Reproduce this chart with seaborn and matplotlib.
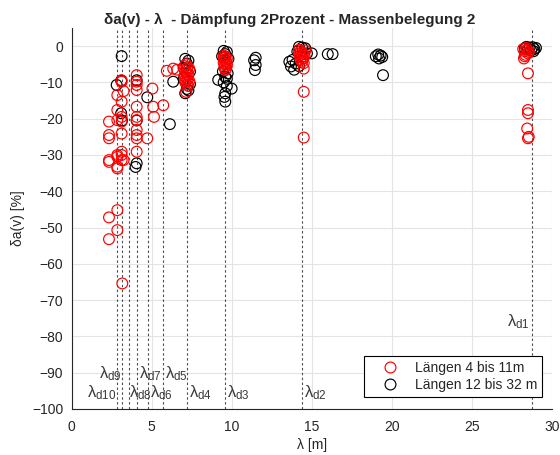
import matplotlib
matplotlib.use("Agg")
import matplotlib.pyplot as plt
from matplotlib.lines import Line2D
import pandas as pd
import seaborn as sns

# Wavelength lambda [m] and amplitude deviation delta_a(v) [%]
red_lam = [
    2.34, 2.34, 2.34, 2.34, 2.34, 2.34, 2.34,
    2.86, 2.86, 2.86, 2.86, 2.86, 2.86, 2.86, 2.86, 2.86,
    3.13, 3.13, 3.13, 3.13, 3.13, 3.13, 3.13, 3.13, 3.13,
    3.25, 3.25, 3.17,
    4.07, 4.07, 4.07, 4.07, 4.07, 4.07, 4.07, 4.07, 4.07, 4.07, 4.07,
    4.73, 5.05, 5.10, 5.15, 5.73, 5.95, 6.35, 6.60,
    7.05, 7.15, 7.25, 7.35, 7.10, 7.20, 7.30, 7.05, 7.15, 7.25, 7.35,
    7.10, 7.20, 7.30, 7.15, 7.20, 7.25, 7.10,
    9.50, 9.60, 9.70, 9.55, 9.65, 9.50, 9.60, 9.70, 9.55, 9.65, 9.60,
    9.50, 9.70,
    14.20, 14.30, 14.40, 14.50, 14.60, 14.25, 14.35, 14.45, 14.55, 14.30,
    14.40, 14.50, 14.20, 14.50, 14.50, 14.50,
    28.20, 28.30, 28.40, 28.50, 28.35, 28.45, 28.55, 28.25, 28.30, 28.50,
    28.50, 28.50, 28.45, 28.50, 28.55,
]
red_delta = [
    -20.8, -24.5, -25.4, -31.4, -31.9, -47.2, -53.2,
    -13.5, -17.6, -20.4, -30.0, -30.5, -33.2, -33.7, -45.2, -50.7,
    -9.4, -9.8, -15.3, -19.5, -20.8, -24.1, -29.1, -30.0, -31.4,
    -12.4, -31.4, -65.4,
    -8.0, -9.8, -10.7, -12.1, -16.7, -19.5, -20.4, -23.1, -24.5, -25.4, -29.1,
    -25.4, -11.7, -16.7, -19.5, -16.3, -6.8, -6.2, -6.5,
    -5.5, -5.0, -5.8, -6.2, -6.8, -7.3, -7.8, -8.2, -8.8, -9.2, -9.6,
    -10.0, -10.6, -11.0, -12.6, -6.2, -8.0, -9.4,
    -2.6, -3.0, -3.4, -3.8, -4.2, -4.6, -5.0, -5.4, -5.8, -6.2, -6.6,
    -3.2, -4.8,
    -1.0, -1.4, -1.8, -2.2, -1.2, -2.6, -3.0, -3.4, -2.8, -3.8,
    -4.3, -4.7, -2.0, -6.2, -12.6, -25.2,
    -0.8, -1.4, -0.5, -2.0, -2.4, -1.0, -1.6, -3.4, -2.8, -7.5,
    -17.6, -18.5, -22.7, -25.4, -25.0,
]

black_lam = [
    3.13, 2.82, 3.10, 3.15, 3.10, 4.07, 4.07, 4.00, 4.07, 4.73, 6.14, 6.35,
    7.10, 7.30, 7.20, 7.00, 7.40, 7.00, 7.40, 7.20, 7.10, 7.30,
    9.50, 9.70, 9.60, 9.40, 9.80, 9.45, 9.75, 9.60, 9.16, 9.50, 9.70,
    10.00, 9.60, 9.55, 9.60, 9.70,
    11.40, 11.50, 11.45, 11.50,
    14.20, 14.40, 14.60, 14.10, 14.70, 13.60, 13.70, 13.90, 13.80, 14.00,
    14.20, 15.00, 16.00, 16.30,
    19.00, 19.15, 19.30, 19.20, 19.40, 19.45,
    28.40, 28.60, 28.80, 28.90, 29.00, 28.70, 28.30, 28.85, 28.50,
]
black_delta = [
    -2.75, -10.7, -9.5, -20.5, -18.5, -9.4, -32.3, -33.3, -20.5, -14.1, -21.5, -9.8,
    -3.5, -4.0, -4.8, -6.0, -7.0, -9.0, -10.5, -11.8, -13.0, -12.2,
    -1.3, -1.6, -2.2, -2.8, -3.5, -7.0, -7.5, -8.5, -9.3, -10.0, -11.0,
    -11.7, -13.0, -14.0, -15.3, -9.0,
    -3.9, -5.2, -6.6, -3.2,
    -0.2, -0.4, -0.6, -1.5, -2.0, -4.3, -5.6, -6.5, -3.8, -4.8,
    -5.5, -2.0, -2.2, -2.2,
    -2.8, -2.3, -2.6, -3.4, -3.0, -8.0,
    -0.2, -0.4, -0.3, -0.8, -0.5, -1.2, -0.6, -1.4, -0.9,
]

# Characteristic wavelengths lambda_d1 ... lambda_d10
lam_d = [28.75, 14.40, 9.58, 7.19, 5.73, 4.79, 4.07, 3.59, 3.17, 2.86]
lam_d_names = ["d1", "d2", "d3", "d4", "d5", "d6", "d7", "d8", "d9", "d10"]

series_names = ["Längen 4 bis 11m", "Längen 12 bis 32 m"]
x_ticks = [0, 5, 10, 15, 20, 25, 30]
y_ticks = [-100, -90, -80, -70, -60, -50, -40, -30, -20, -10, 0]

sns.set_style("white")
plt.rcParams["font.family"] = ["Liberation Sans", "DejaVu Sans"]
plt.rcParams["mathtext.fontset"] = "custom"
plt.rcParams["mathtext.rm"] = "Liberation Sans"
plt.rcParams["mathtext.it"] = "Liberation Sans"
plt.rcParams["mathtext.default"] = "regular"

fig = plt.figure(figsize=(5.6, 4.55), dpi=100)
ax = fig.add_axes([0.1277, 0.1011, 0.858, 0.8374])

df_red = pd.DataFrame({"lam": red_lam, "delta": red_delta})
df_black = pd.DataFrame({"lam": black_lam, "delta": black_delta})

mk = dict(marker="o", s=60, facecolor="none", linewidth=0.85, legend=False, zorder=3)
sns.scatterplot(data=df_black, x="lam", y="delta", ax=ax, edgecolor="black", **mk)
sns.scatterplot(data=df_red, x="lam", y="delta", ax=ax, edgecolor="red", **mk)

# dashed markers for the characteristic wavelengths
for v in lam_d:
    ax.axvline(v, color="#4d4d4d", lw=0.8, ls=(0, (2.2, 2.2)), zorder=2)

top_row, low_row = -91.6, -96.8
label_pos = {
    "d1": (-0.12, -77.3, "right"),
    "d2": (0.12, low_row, "left"),
    "d3": (0.12, low_row, "left"),
    "d4": (0.12, low_row, "left"),
    "d5": (0.12, top_row, "left"),
    "d6": (0.10, low_row, "left"),
    "d7": (0.12, top_row, "left"),
    "d8": (0.0, low_row, "left"),
    "d9": (-0.05, top_row, "right"),
    "d10": (-0.05, low_row, "right"),
}
for v, name in zip(lam_d, lam_d_names):
    dx, yy, ha = label_pos[name]
    ax.text(v + dx, yy, r"$\lambda_{" + name + "}$", ha=ha, va="baseline",
            fontsize=12, color="#3a3a3a", zorder=4)

ax.set_xlim(0, 30)
ax.set_ylim(-100, 5)
ax.set_xticks(x_ticks)
ax.set_yticks(y_ticks)
ax.grid(True, color="#e4e4e4", lw=0.8)
ax.set_axisbelow(True)
for side in ["top", "right"]:
    ax.spines[side].set_visible(False)
for side in ["left", "bottom"]:
    ax.spines[side].set_color("#262626")
    ax.spines[side].set_linewidth(0.8)
ax.tick_params(direction="in", length=4, width=0.8, color="#262626",
               labelsize=10, labelcolor="#262626")
ax.tick_params(axis="x", pad=8)
ax.tick_params(axis="y", pad=6)

ax.set_xlabel("λ [m]", fontsize=10, color="#262626", labelpad=3)
ax.set_ylabel("δa(v) [%]", fontsize=10, color="#262626", labelpad=5)
ax.set_title("δa(v) - λ  - Dämpfung 2Prozent - Massenbelegung 2",
             fontsize=11, fontweight="bold", x=0.455, pad=3)

handles = [
    Line2D([], [], ls="none", marker="o", ms=7.8, mfc="none", mec="red", mew=0.85),
    Line2D([], [], ls="none", marker="o", ms=7.8, mfc="none", mec="black", mew=0.85),
]
leg = ax.legend(handles, series_names, loc="lower right",
                bbox_to_anchor=(0.979, 0.0315), borderaxespad=0,
                fontsize=10, frameon=True, fancybox=False, framealpha=1,
                edgecolor="black", handlelength=3.0, handletextpad=0.3,
                borderpad=0.35, labelspacing=0.25)
leg.get_frame().set_linewidth(0.8)

fig.savefig("out.png", dpi=100)
